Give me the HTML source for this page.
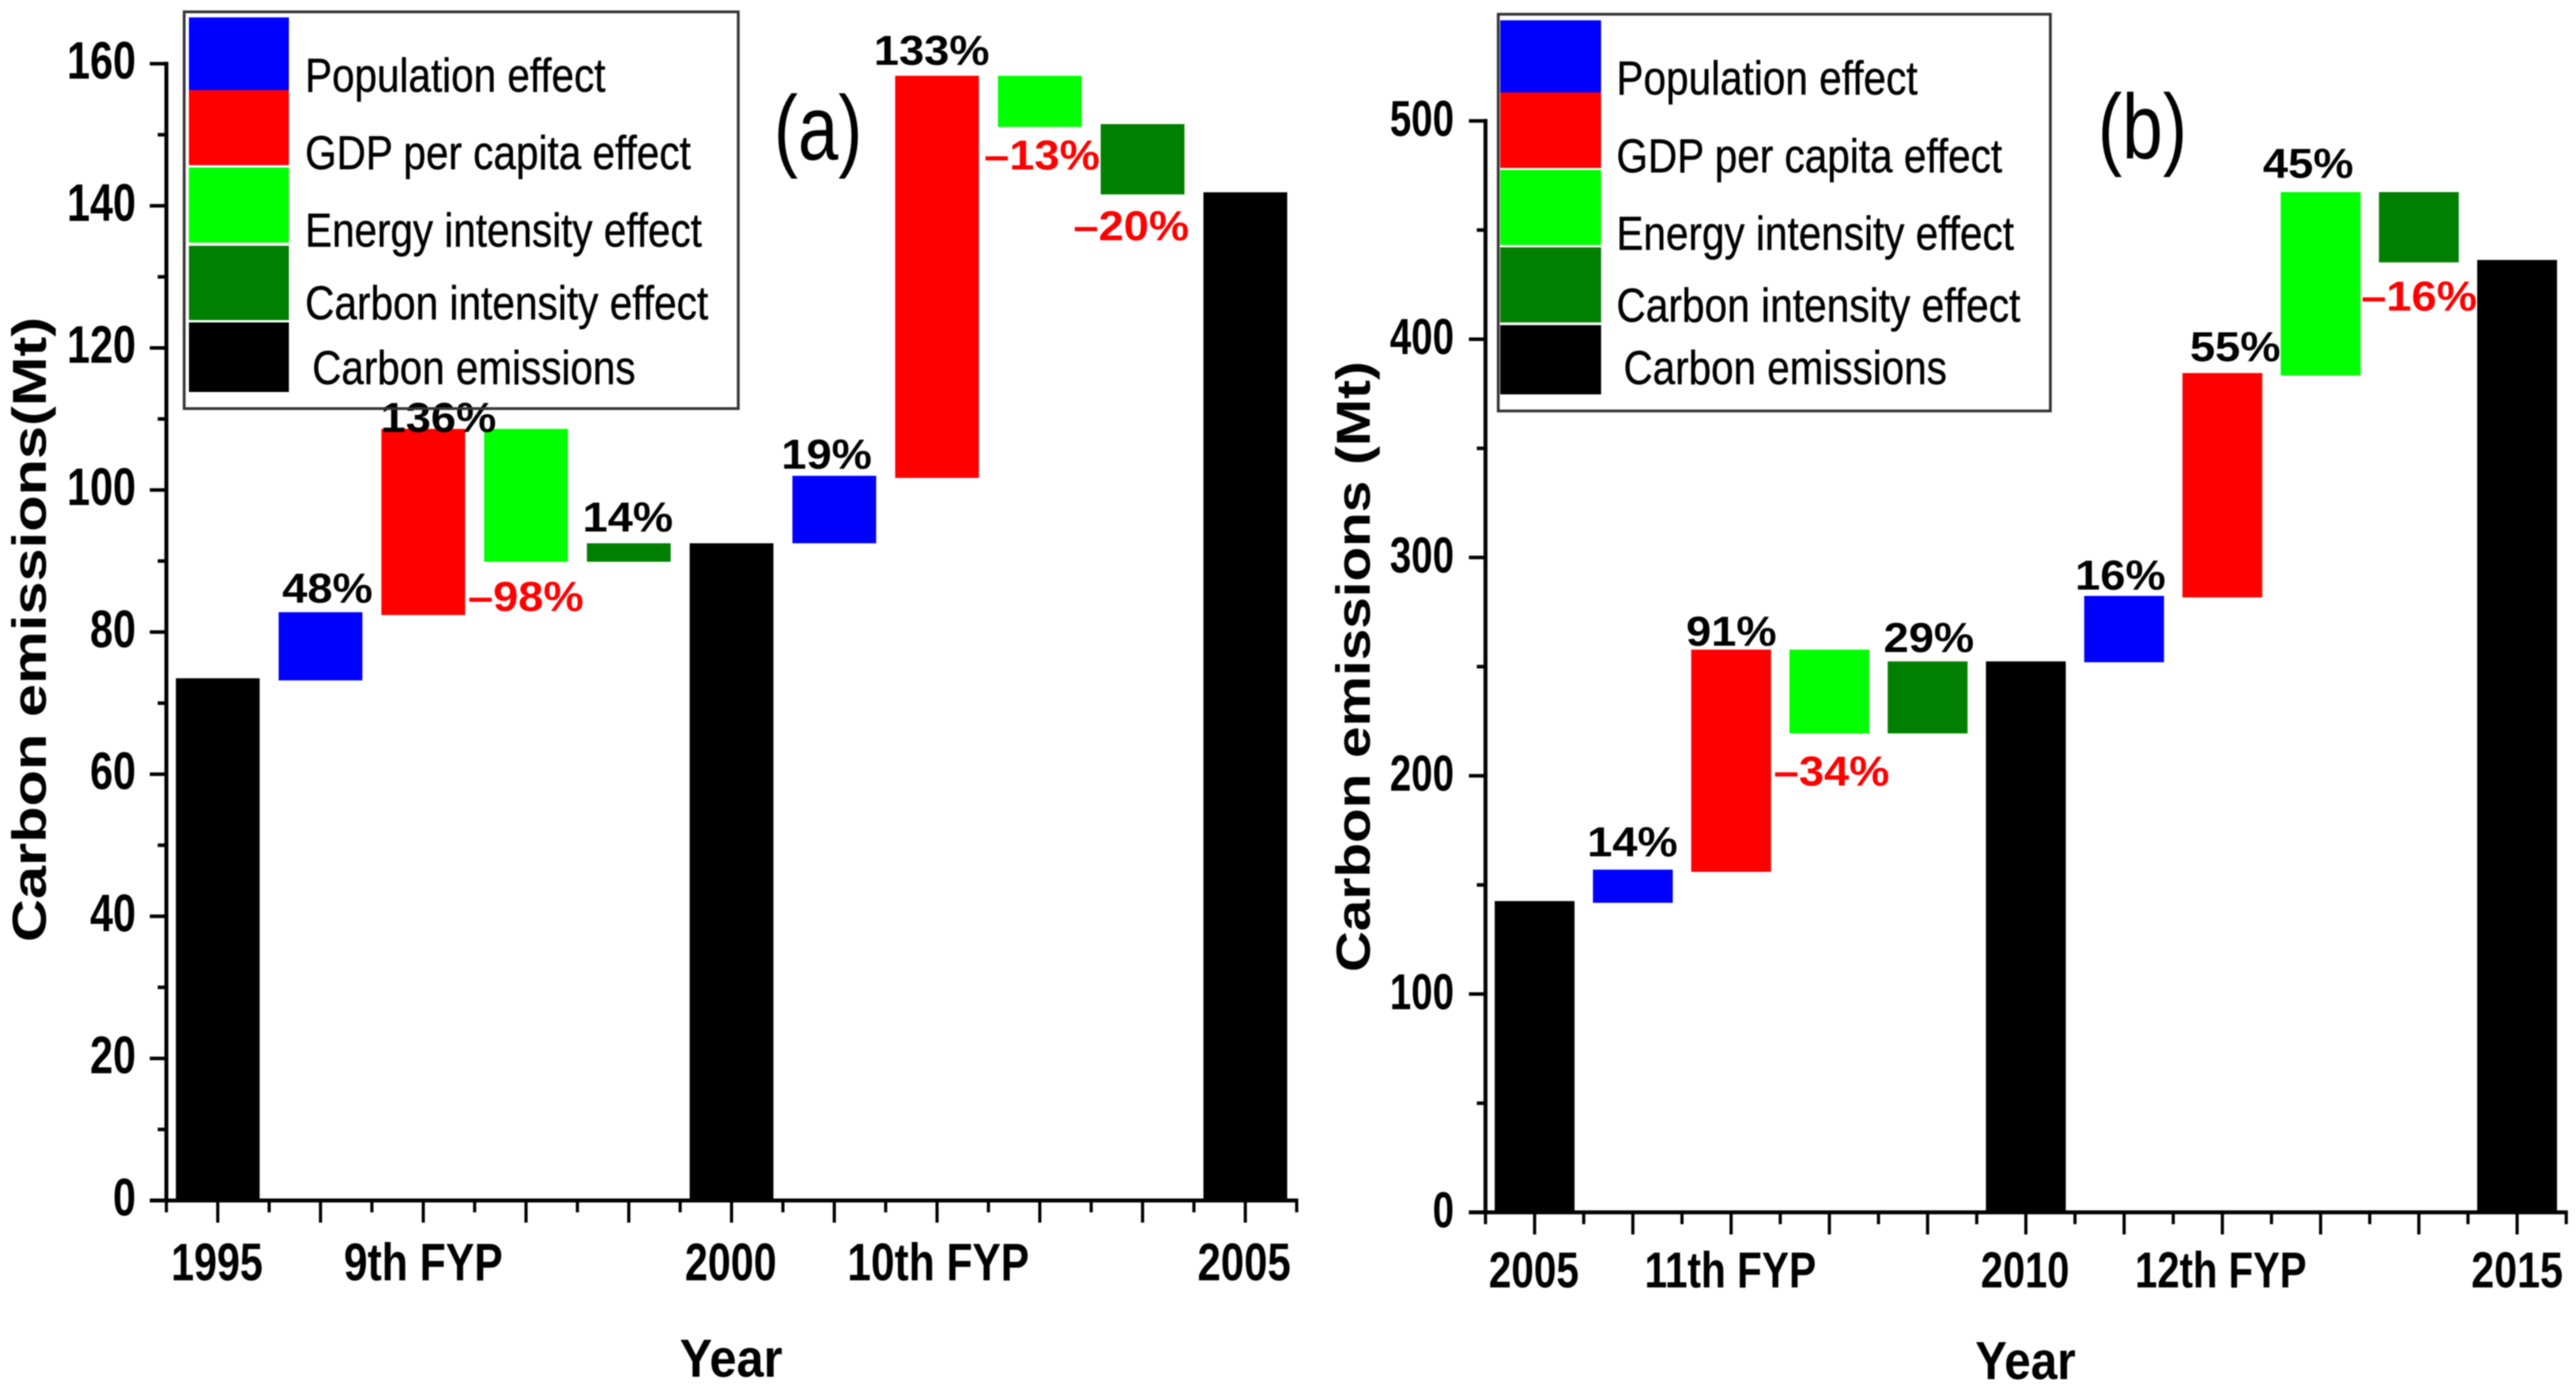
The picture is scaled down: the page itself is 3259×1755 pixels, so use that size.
<!DOCTYPE html>
<html lang="en">
<head>
<meta charset="utf-8">
<title>Carbon emissions decomposition</title>
<style>
html,body{margin:0;padding:0;background:#fff;}
svg{display:block;font-family:"Liberation Sans",sans-serif;filter:blur(0.7px);}
.leg{font-size:60px;fill:#000;stroke:#000;stroke-width:.5px;}
.ttl{font-size:60px;font-weight:bold;fill:#000;}
.yr{font-size:68px;font-weight:bold;fill:#000;}
.pn{font-size:116px;fill:#000;}
</style>
</head>
<body>
<svg id="chart" xmlns="http://www.w3.org/2000/svg" width="3259" height="1755" viewBox="0 0 3259 1755">
  <rect x="0" y="0" width="3259" height="1755" fill="#fff"/>
  <g id="panel-a"></g>
  <g id="panel-b"></g>

  <g>
    <rect x="233" y="15" width="701" height="502" fill="none" stroke="#333" stroke-width="3.5"/>
    <rect x="239" y="22" width="126.500" height="92" fill="#00f"/>
    <rect x="239" y="114" width="126.500" height="95" fill="#f00"/>
    <rect x="239" y="212" width="126.500" height="95" fill="#0f0"/>
    <rect x="239" y="311" width="126.500" height="94" fill="#008000"/>
    <rect x="239" y="408" width="126.500" height="88" fill="#000"/>
    <text class="leg" x="386" y="116" textLength="380" lengthAdjust="spacingAndGlyphs">Population effect</text>
    <text class="leg" x="386" y="214" textLength="488" lengthAdjust="spacingAndGlyphs">GDP per capita effect</text>
    <text class="leg" x="386" y="312" textLength="502" lengthAdjust="spacingAndGlyphs">Energy intensity effect</text>
    <text class="leg" x="386" y="404" textLength="510" lengthAdjust="spacingAndGlyphs">Carbon intensity effect</text>
    <text class="leg" x="395" y="486" textLength="409" lengthAdjust="spacingAndGlyphs">Carbon emissions</text>
  </g>

  <g>
    <rect x="1895.500" y="18" width="698.500" height="502" fill="none" stroke="#333" stroke-width="3.500"/>
    <rect x="1898" y="25.700" width="127.600" height="91.300" fill="#00f"/>
    <rect x="1898" y="117" width="127.600" height="95.500" fill="#f00"/>
    <rect x="1898" y="215" width="127.600" height="95" fill="#0f0"/>
    <rect x="1898" y="313" width="127.600" height="95" fill="#008000"/>
    <rect x="1898" y="411.400" width="127.600" height="87.600" fill="#000"/>
    <text class="leg" x="2045" y="119.600" textLength="381" lengthAdjust="spacingAndGlyphs">Population effect</text>
    <text class="leg" x="2045" y="218" textLength="488" lengthAdjust="spacingAndGlyphs">GDP per capita effect</text>
    <text class="leg" x="2045" y="316" textLength="503" lengthAdjust="spacingAndGlyphs">Energy intensity effect</text>
    <text class="leg" x="2045" y="407" textLength="511" lengthAdjust="spacingAndGlyphs">Carbon intensity effect</text>
    <text class="leg" x="2054" y="486" textLength="409" lengthAdjust="spacingAndGlyphs">Carbon emissions</text>
  </g>

  <text class="pn" x="979" y="202" textLength="112" lengthAdjust="spacingAndGlyphs">(a)</text>
  <text class="pn" x="2654" y="200" textLength="113" lengthAdjust="spacingAndGlyphs">(b)</text>

  <text class="ttl" transform="translate(58,1192) rotate(-90)" textLength="791" lengthAdjust="spacingAndGlyphs">Carbon emissions(Mt)</text>
  <text class="ttl" transform="translate(1733,1230) rotate(-90)" textLength="773" lengthAdjust="spacingAndGlyphs">Carbon emissions (Mt)</text>

  <text class="yr" x="860" y="1742" textLength="130" lengthAdjust="spacingAndGlyphs">Year</text>
  <text class="yr" x="2499" y="1745" textLength="127" lengthAdjust="spacingAndGlyphs">Year</text>
</svg>

<script>
// ---------- Panel (a) data ----------
const aCategories = ["1995","Population","GDP per capita","Energy intensity","Carbon intensity","2000","Population","GDP per capita","Energy intensity","Carbon intensity","2005"];
const aSeriesKinds = ["emissions","population","gdp","energy","carbon","emissions","population","gdp","energy","carbon","emissions"];
const aLow  = [0, 73.2, 82.4, 89.9, 89.9, 0, 92.5, 101.7, 151.1, 141.6, 0];
const aHigh = [73.5, 82.8, 108.6, 108.6, 92.5, 92.5, 102.0, 158.3, 158.3, 151.5, 141.9];
const aPercents = ["","48%","136%","–98%","14%","","19%","133%","–13%","–20%",""];
const aYTicks = [0,20,40,60,80,100,120,140,160];
const aXTickLabels = ["1995","","9th FYP","","","2000","","10th FYP","","","2005"];

// ---------- Panel (b) data ----------
const bCategories = ["2005","Population","GDP per capita","Energy intensity","Carbon intensity","2010","Population","GDP per capita","Energy intensity","Carbon intensity","2015"];
const bSeriesKinds = ["emissions","population","gdp","energy","carbon","emissions","population","gdp","energy","carbon","emissions"];
const bLow  = [0, 141.8, 156, 219.4, 219.4, 0, 252, 281.7, 383.4, 435.2, 0];
const bHigh = [142.6, 157, 257.8, 257.8, 252.4, 252.4, 282.4, 384.5, 467.4, 467.4, 436.3];
const bPercents = ["","14%","91%","–34%","29%","","16%","55%","45%","–16%",""];
const bYTicks = [0,100,200,300,400,500];
const bXTickLabels = ["2005","","11th FYP","","","2010","","12th FYP","","","2015"];

const SVGNS = 'http://www.w3.org/2000/svg';
function add(parent, tag, attrs, text) {
  const el = document.createElementNS(SVGNS, tag);
  for (const k in attrs) el.setAttribute(k, attrs[k]);
  if (text !== undefined) el.textContent = text;
  parent.appendChild(el);
  return el;
}

const kindColor = {emissions:'#000', population:'#00f', gdp:'#f00', energy:'#0f0', carbon:'#008000'};

function drawPanel(root, d, cfg) {
  const x = i => cfg.x0 + cfg.step * i;
  const y = v => cfg.y0 - cfg.k * v;
  const axisX = x(-0.5);
  const axisEnd = x(d.categories.length - 0.5);
  const yMax = d.yTicks[d.yTicks.length - 1];

  // bars
  d.categories.forEach(function (cat, i) {
    const top = y(d.high[i]);
    const r = add(root, 'rect', {
      x: x(i) - cfg.barW / 2, y: top,
      width: cfg.barW, height: y(d.low[i]) - top,
      fill: kindColor[d.kinds[i]]
    });
    
    
  });

  // axes
  const yAxis = add(root, 'line', {x1: axisX, x2: axisX, y1: y(yMax) - 2.5, y2: y(0) + 2.5, stroke: '#000', 'stroke-width': 5});
  
  
  const xAxis = add(root, 'line', {x1: axisX - 21, x2: axisEnd + 2, y1: y(0), y2: y(0), stroke: '#000', 'stroke-width': 5});
  
  

  // y ticks and labels
  d.yTicks.forEach(function (v, i) {
    const t = add(root, 'line', {x1: axisX - 21, x2: axisX, y1: y(v), y2: y(v), stroke: '#000', 'stroke-width': 4.5});
    
    
    if (i < d.yTicks.length - 1) {
      const mv = (v + d.yTicks[i + 1]) / 2;
      const m = add(root, 'line', {x1: axisX - 11, x2: axisX, y1: y(mv), y2: y(mv), stroke: '#000', 'stroke-width': 4.5});
      
      
    }
    const lab = add(root, 'text', {
      transform: 'translate(' + cfg.yLabelRight + ',' + (y(v) + 19) + ') scale(' + cfg.tickSx + ',1)',
      'text-anchor': 'end', 'font-size': cfg.tickFont, 'font-weight': 'bold', fill: '#000'
    }, String(v));
    
    
  });

  // x ticks and labels
  d.categories.forEach(function (cat, i) {
    const t = add(root, 'line', {x1: x(i), x2: x(i), y1: y(0), y2: y(0) + 28, stroke: '#000', 'stroke-width': 4});
    
    
    const m = add(root, 'line', {x1: x(i - 0.5), x2: x(i - 0.5), y1: y(0), y2: y(0) + 15, stroke: '#000', 'stroke-width': 4});
    
    
    if (d.xLabels[i]) {
      const lab = add(root, 'text', {
        x: x(i) + cfg.xLabelDx[i] - cfg.xLabelW[i] / 2, y: cfg.xLabelY,
        textLength: cfg.xLabelW[i], lengthAdjust: 'spacingAndGlyphs',
        'font-size': cfg.tickFont, 'font-weight': 'bold', fill: '#000'
      }, d.xLabels[i]);
      
      
    }
  });
  const lastMinor = add(root, 'line', {x1: axisEnd, x2: axisEnd, y1: y(0), y2: y(0) + 15, stroke: '#000', 'stroke-width': 4});
  
  

  // percent labels
  d.percents.forEach(function (p, i) {
    if (!p) return;
    const neg = p.charAt(0) === '–';
    const n = cfg.labelNudge[i];
    const py = (neg ? y(d.low[i]) : y(d.high[i])) + n[1];
    const lab = add(root, 'text', {
      transform: 'translate(' + (x(i) + n[0]) + ',' + py + ') scale(1.08,1)',
      'font-size': 53, 'font-weight': 'bold', fill: neg ? '#f00' : '#000'
    }, p);
    
    
  });
}

drawPanel(document.getElementById('panel-a'),
  {categories: aCategories, kinds: aSeriesKinds, low: aLow, high: aHigh, percents: aPercents, yTicks: aYTicks, xLabels: aXTickLabels},
  {id: 'a', x0: 275.5, step: 130, y0: 1519, k: 8.99, barW: 106, yLabelRight: 172, tickSx: 0.78, tickFont: 67, xLabelY: 1620,
   xLabelDx: [-1, 0, 0, 0, 0, -1, 0, 1.5, 0, 0, -1.5],
   xLabelW: [116, 0, 201, 0, 0, 116, 0, 230, 0, 0, 118],
   labelNudge: [null, [-48.5,-12], [-54,4], [-73.5,62], [-58.5,-15], null, [-67,-9], [-80,-14], [-70.5,54], [-87.5,58], null]});

drawPanel(document.getElementById('panel-b'),
  {categories: bCategories, kinds: bSeriesKinds, low: bLow, high: bHigh, percents: bPercents, yTicks: bYTicks, xLabels: bXTickLabels},
  {id: 'b', x0: 1941.5, step: 124.3, y0: 1534, k: 2.762, barW: 101, yLabelRight: 1839.5, tickSx: 0.76, tickFont: 64, xLabelY: 1629,
   xLabelDx: [-1, 0, -1, 0, 0, -1, 0, -2, 0, 0, 0],
   xLabelW: [114, 0, 217, 0, 0, 112, 0, 217, 0, 0, 116],
   labelNudge: [null, [-57.8,-17], [-57,-5], [-70.4,66], [-55.7,-12], null, [-62,-8], [-41,-15], [-73,-18], [-73,61], null]});
</script>
</body>
</html>
